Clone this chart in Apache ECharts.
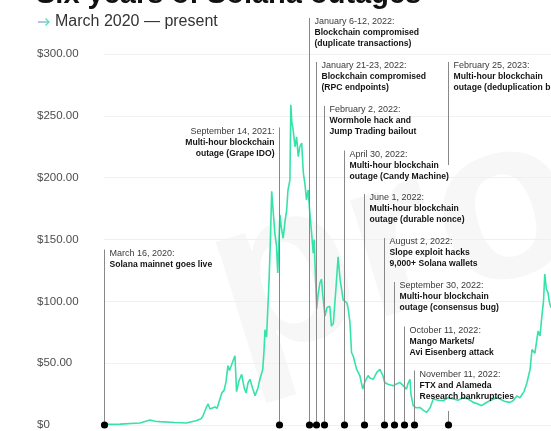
<!DOCTYPE html>
<html>
<head>
<meta charset="utf-8">
<script src="https://cdn.jsdelivr.net/npm/echarts@6/dist/echarts.min.js"></script>
<style>
html,body{margin:0;padding:0;background:#fff;}
#chart{width:551px;height:431px;}
</style>
</head>
<body>
<div id="chart"></div>
<script>
// ---- Data ----
const priceDates = [
  '2020-03-19','2020-05-05','2020-07-07','2020-08-07','2020-08-23','2020-09-07','2020-10-24','2020-11-28','2020-12-29',
  '2021-01-14','2021-01-20','2021-01-30','2021-02-05','2021-02-11','2021-02-17','2021-02-26','2021-03-05','2021-03-14','2021-03-20','2021-03-27',
  '2021-04-02','2021-04-08','2021-04-13','2021-04-18','2021-04-24','2021-04-30',
  '2021-05-05','2021-05-13','2021-05-21','2021-05-29',
  '2021-06-04','2021-06-10','2021-06-16','2021-06-24',
  '2021-07-02','2021-07-11','2021-07-17','2021-07-26','2021-07-30',
  '2021-08-02','2021-08-07','2021-08-11','2021-08-15','2021-08-19','2021-08-23','2021-08-27',
  '2021-09-02','2021-09-07','2021-09-11','2021-09-15','2021-09-18','2021-09-22','2021-09-28',
  '2021-10-04','2021-10-09','2021-10-13','2021-10-19','2021-10-22','2021-10-25','2021-10-29',
  '2021-11-04','2021-11-09','2021-11-14','2021-11-19','2021-11-25','2021-11-30',
  '2021-12-05','2021-12-10','2021-12-15','2021-12-21','2021-12-26','2021-12-31',
  '2022-01-03','2022-01-07','2022-01-11','2022-01-15','2022-01-21','2022-01-26','2022-01-30',
  '2022-02-06','2022-02-12','2022-02-21','2022-02-26',
  '2022-03-04','2022-03-12','2022-03-19','2022-03-25',
  '2022-04-04','2022-04-09','2022-04-15','2022-04-19','2022-04-25','2022-04-30',
  '2022-05-05','2022-05-16','2022-05-21','2022-05-26',
  '2022-06-04','2022-06-11','2022-06-21','2022-06-26',
  '2022-07-07','2022-07-18','2022-07-28',
  '2022-08-02','2022-08-06','2022-08-12','2022-08-22','2022-08-28',
  '2022-09-08','2022-09-16','2022-09-28',
  '2022-10-08','2022-10-19','2022-10-23','2022-10-30',
  '2022-11-02','2022-11-09','2022-11-17','2022-11-30',
  '2022-12-10','2022-12-21',
  '2023-01-01','2023-01-11','2023-01-26','2023-02-11','2023-02-26','2023-03-15','2023-03-29','2023-04-15','2023-04-30',
  '2023-05-16','2023-05-31','2023-06-11','2023-06-25','2023-07-07','2023-07-28','2023-08-08','2023-08-23',
  '2023-09-08','2023-09-18','2023-09-30','2023-10-09','2023-10-22','2023-10-31','2023-11-10','2023-11-16','2023-11-25',
  '2023-12-05','2023-12-11','2023-12-17','2023-12-22','2023-12-26','2023-12-31',
  '2024-01-05','2024-01-09','2024-01-14','2024-01-20'
];
const priceValues = [
  0.5, 0.7, 1.6, 4, 3, 2.7, 2, 1.6, 3.5,
  5, 7.5, 14, 17, 13, 14, 14.5, 13.5, 21, 26, 28,
  35, 48, 44, 45, 52, 56,
  27, 36, 41, 30,
  26, 34, 37, 30,
  23.6, 30, 37, 45, 60,
  77, 71, 95, 118, 150, 189, 175,
  155, 145, 123, 150, 170, 160, 151,
  165, 174, 190, 198, 259, 245, 239,
  225, 233, 217, 225, 228, 204,
  195, 182, 190, 170, 155, 139,
  150, 120, 94, 105, 115, 118, 105,
  88, 95, 96, 80,
  82, 110, 136, 118,
  101, 101, 99, 95, 83, 58.6,
  56, 45, 45, 40,
  29, 35, 40, 38,
  37, 42.5, 45,
  45, 40, 34.4, 33, 34,
  31.7, 33, 34.4,
  32, 29, 33, 37,
  25, 15.6, 14, 14.2,
  12, 10.2,
  14, 21, 20, 19.6, 22, 21, 20, 22, 21,
  18.3, 17, 15.6, 18, 19.6, 22, 21, 19,
  18.3, 19.6, 23.6, 22, 27, 34, 45, 61, 58,
  76, 72, 88, 100, 122, 110,
  107, 100, 95, 98
];
// marker positions as plotted in the picture
const markerDates = [
  '2020-03-16','2021-09-15','2021-12-18','2022-01-09','2022-02-02','2022-04-05',
  '2022-06-07','2022-08-09','2022-09-11','2022-10-10','2022-11-11','2023-02-25'
];
const eventTitles = [
  'March 16, 2020:','September 14, 2021:','January 6-12, 2022:','January 21-23, 2022:',
  'February 2, 2022:','April 30, 2022:','June 1, 2022:','August 2, 2022:',
  'September 30, 2022:','October 11, 2022:','November 11, 2022:','February 25, 2023:'
];
const eventLines = [
  ['Solana mainnet goes live'],
  ['Multi-hour blockchain','outage (Grape IDO)'],
  ['Blockchain compromised','(duplicate transactions)'],
  ['Blockchain compromised','(RPC endpoints)'],
  ['Wormhole hack and','Jump Trading bailout'],
  ['Multi-hour blockchain','outage (Candy Machine)'],
  ['Multi-hour blockchain','outage (durable nonce)'],
  ['Slope exploit hacks','9,000+ Solana wallets'],
  ['Multi-hour blockchain','outage (consensus bug)'],
  ['Mango Markets/','Avi Eisenberg attack'],
  ['FTX and Alameda','Research bankruptcies'],
  ['Multi-hour blockchain','outage (deduplication bug)']
];
const yTicks = [0, 50, 100, 150, 200, 250, 300];

// ---- Layout (pixels) ----
const labelY = [253.5, 131.5, 22, 66, 110, 154.5, 198, 242, 286, 330.5, 374.5, 66];
const labelLeftSide = [false, true, false, false, false, false, false, false, false, false, false, false];
const lineGaps = {11: [165, 411]};
const FONT = '"Liberation Sans", Arial, sans-serif';

const chart = echarts.init(document.getElementById('chart'), null, {renderer: 'canvas'});

function renderEvent(params, api) {
  const i = params.dataIndex;
  const p = api.coord([api.value(0), 0]);
  const x = Math.round(p[0]) + 0.5, y0 = p[1];
  const top = labelY[i] - 4;
  const ls = {stroke: '#888888', lineWidth: 1};
  const children = [];
  const gap = lineGaps[i];
  if (gap) {
    children.push({type: 'line', shape: {x1: x, y1: top, x2: x, y2: gap[0]}, style: ls});
    children.push({type: 'line', shape: {x1: x, y1: gap[1], x2: x, y2: y0}, style: ls});
  } else {
    children.push({type: 'line', shape: {x1: x, y1: top, x2: x, y2: y0}, style: ls});
  }
  children.push({type: 'circle', shape: {cx: x, cy: y0, r: 3.6}, style: {fill: '#000'}});
  const left = labelLeftSide[i];
  const tx = left ? x - 5 : x + 5;
  const align = left ? 'right' : 'left';
  children.push({type: 'text', x: tx, y: labelY[i], style: {
    text: eventTitles[i], fill: '#3a3a3a', font: '9px ' + FONT, align: align, verticalAlign: 'middle'}});
  eventLines[i].forEach(function (t, k) {
    children.push({type: 'text', x: tx, y: labelY[i] + 11 * (k + 1), style: {
      text: t, fill: '#141414', font: 'bold 8.6px ' + FONT, align: align, verticalAlign: 'middle'}});
  });
  return {type: 'group', children: children};
}

const option = {
  backgroundColor: '#ffffff',
  animation: false,
  graphic: [
    {type: 'text', x: 218, y: 302, rotation: 0.3, z: -10, silent: true,
      style: {text: 'protos', font: 'bold 230px ' + FONT, fill: 'rgba(0,0,0,0.03)', align: 'left', verticalAlign: 'middle'}},
    {type: 'text', x: 36, y: -5, style: {text: 'Six years of Solana outages', font: 'bold 29px ' + FONT, fill: '#111', verticalAlign: 'middle'}},
    {type: 'polyline', shape: {points: [[38, 22], [49, 22]]},
      style: {stroke: new echarts.graphic.LinearGradient(0, 0, 1, 0, [{offset: 0, color: '#b07cf6'}, {offset: 1, color: '#45e3b4'}]), lineWidth: 1.3}},
    {type: 'polyline', shape: {points: [[45.5, 18.5], [49, 22], [45.5, 25.5]]},
      style: {stroke: '#45e3b4', lineWidth: 1.3, fill: null}},
    {type: 'text', x: 55, y: 22, style: {text: 'March 2020 \u2014 present', font: '16px ' + FONT, fill: '#333', verticalAlign: 'middle'}}
  ],
  grid: {left: 104, right: 0, top: 54, bottom: 5, containLabel: false},
  xAxis: {
    type: 'time', min: '2020-03-16', max: '2024-01-14 12:00',
    axisLine: {show: false}, axisTick: {show: false}, axisLabel: {show: false}, splitLine: {show: false}
  },
  yAxis: {
    type: 'value', min: yTicks[0], max: yTicks[yTicks.length - 1], interval: 50,
    axisLine: {show: false}, axisTick: {show: false},
    axisLabel: {
      align: 'left', margin: 67, color: '#4d4d4d', fontSize: 11.5, fontFamily: FONT,
      formatter: function (v) { return v === 0 ? '$0' : '$' + v.toFixed(2); }
    },
    splitLine: {lineStyle: {color: '#eef1ef', width: 1}}
  },
  series: [
    {
      type: 'line', showSymbol: false, symbol: 'none',
      data: priceDates.map(function (d, i) { return [d, priceValues[i]]; }),
      lineStyle: {color: '#36e3a7', width: 1.6}, z: 2
    },
    {
      type: 'custom', clip: false, z: 3,
      data: markerDates.map(function (d) { return [d, 0]; }),
      encode: {x: 0, y: 1},
      renderItem: renderEvent
    }
  ]
};
chart.setOption(option);
</script>
</body>
</html>
